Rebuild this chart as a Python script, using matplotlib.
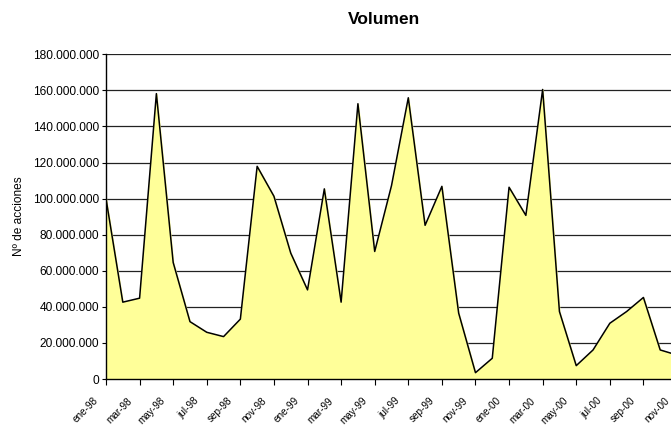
import numpy as np
import matplotlib.pyplot as plt
from matplotlib.ticker import FuncFormatter, MultipleLocator
import matplotlib.transforms as mtransforms

plt.rcParams['font.family'] = ['Liberation Sans', 'DejaVu Sans']

# monthly traded volume, ene-98 .. nov-00 (millions of shares)
meses = ['ene', 'feb', 'mar', 'abr', 'may', 'jun', 'jul', 'ago', 'sep', 'oct', 'nov', 'dic']
anios = ['98', '99', '00']
volumen_m = [100.0, 42.6, 44.8, 158.2, 64.6, 31.8, 25.9, 23.5, 33.2, 117.9, 101.3, 69.8,
             49.4, 105.4, 42.6, 152.6, 70.7, 107.2, 155.9, 85.2, 106.8, 36.5, 3.5, 11.5,
             106.3, 90.7, 160.5, 37.4, 7.4, 16.1, 30.9, 37.4, 45.2, 16.1, 13.3]

etiquetas = [m + '-' + a for a in anios for m in meses][:len(volumen_m)]
volumen = np.array(volumen_m) * 1e6
x = np.arange(len(volumen))

fig = plt.figure(figsize=(6.71, 4.30), dpi=100)
# plot area runs past the right edge of the figure
ax = fig.add_axes([106 / 671, 1 - 379 / 430, (677 - 106) / 671, (379 - 54.3) / 430])

ax.fill_between(x, volumen, 0, color='#FFFF99', zorder=2)
ax.plot(x, volumen, color='black', lw=1.1, zorder=3)

ax.set_xlim(0, len(volumen) - 1)
ax.set_ylim(0, 180e6)
ax.yaxis.set_major_locator(MultipleLocator(20e6))
ax.yaxis.set_major_formatter(FuncFormatter(lambda v, p: f'{int(v):,}'.replace(',', '.')))
ax.grid(axis='y', color='#222222', lw=0.9, zorder=1)
ax.set_axisbelow(True)

ax.tick_params(axis='y', labelsize=8.6, length=3, width=0.8, pad=2)
ax.tick_params(axis='x', length=4, width=0.8, pad=8)
for s in ['top', 'right']:
    ax.spines[s].set_visible(False)
ax.spines['left'].set_linewidth(1.0)
ax.spines['bottom'].set_linewidth(1.0)

ax.set_xticks(x[::2])
ax.set_xticklabels(etiquetas[::2], rotation=45, ha='right', va='top', fontsize=7.2)
# nudge the slanted labels a little to the left of their ticks
shift = mtransforms.ScaledTranslation(-6 / 100, 0, fig.dpi_scale_trans)
for lbl in ax.get_xticklabels():
    lbl.set_transform(lbl.get_transform() + shift)

ax.set_ylabel('Nº de acciones', fontsize=8.6)
ax.yaxis.set_label_coords(-(106 - 25) / 571, 0.5)
fig.text(384 / 671, 1 - 20 / 430, 'Volumen', fontsize=12.5, fontweight='bold', ha='center', va='center')

fig.savefig('out.png', dpi=100)
